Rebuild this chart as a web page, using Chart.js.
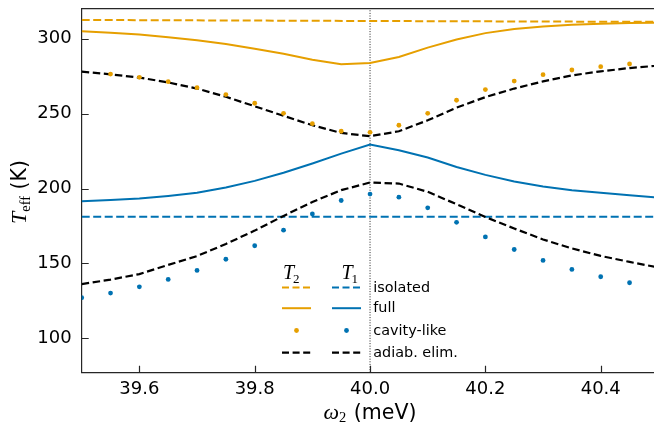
<!DOCTYPE html>
<html><head><meta charset="utf-8">
<script src="https://cdn.jsdelivr.net/npm/chart.js@4.4.1/dist/chart.umd.min.js"></script>
<style>html,body{margin:0;padding:0;background:#fff;overflow:hidden}#wrap{position:relative;width:654px;height:428px}</style>
</head><body><div id="wrap"><canvas id="c" width="654" height="428"></canvas></div>
<script>
// ---- data ----
const omega = [39.5, 39.55, 39.6, 39.65, 39.7, 39.75, 39.8, 39.85, 39.9, 39.95, 40.0, 40.05, 40.1, 40.15, 40.2, 40.25, 40.3, 40.35, 40.4, 40.45, 40.5];
const omegaCavityT2 = [39.55, 39.6, 39.65, 39.7, 39.75, 39.8, 39.85, 39.9, 39.95, 40.0, 40.05, 40.1, 40.15, 40.2, 40.25, 40.3, 40.35, 40.4, 40.45];
const omegaCavityT1 = [39.5, 39.55, 39.6, 39.65, 39.7, 39.75, 39.8, 39.85, 39.9, 39.95, 40.0, 40.05, 40.1, 40.15, 40.2, 40.25, 40.3, 40.35, 40.4, 40.45];
const omegaIsoT2 = [39.5, 40.0, 40.5];
const T2isolated = [312.5, 311.8, 311.2];
const omegaIsoT1 = [39.5, 40.5];
const T1isolated = [181.1, 181.1];
const T2full = [305.0, 304.0, 302.8, 301.0, 299.0, 296.5, 293.3, 290.0, 286.0, 282.9, 283.7, 287.8, 294.0, 299.5, 303.7, 306.4, 308.2, 309.3, 310.0, 310.4, 310.7];
const T1full = [191.5, 192.3, 193.3, 195.0, 197.1, 200.7, 205.1, 210.5, 216.7, 223.3, 229.3, 225.5, 220.7, 214.4, 209.1, 204.7, 201.3, 198.9, 197.1, 195.5, 194.0];
const T2adiab = [278.0, 276.2, 274.0, 270.8, 266.7, 261.2, 254.9, 248.5, 242.2, 237.1, 234.9, 238.2, 245.5, 254.0, 261.0, 266.7, 271.5, 275.5, 278.2, 280.4, 282.0];
const T1adiab = [136.2, 139.2, 142.9, 149.0, 154.9, 163.0, 171.9, 181.7, 191.0, 198.9, 204.0, 203.3, 197.8, 189.5, 181.0, 173.3, 166.0, 160.0, 155.0, 151.0, 147.3];
const T2cavity = [276.4, 274.2, 271.3, 267.3, 262.7, 256.9, 250.2, 243.3, 238.2, 237.5, 242.2, 250.2, 258.9, 266.0, 271.7, 276.0, 279.1, 281.3, 283.1];
const T1cavity = [127.1, 130.2, 134.4, 139.3, 145.3, 152.8, 161.8, 172.2, 183.0, 192.0, 196.3, 194.2, 187.1, 177.4, 167.7, 159.3, 152.0, 146.0, 141.1, 137.1];
const resonance = [40.0];
const xTicks = [39.6, 39.8, 40.0, 40.2, 40.4];
const yTicks = [100, 150, 200, 250, 300];
const legendLabels = ['isolated', 'full', 'cavity-like', 'adiab. elim.'];

const ORANGE = '#E69F00', BLUE = '#0072B2', BLACK = '#000000';
const pts = (xs, ys) => ys.map((y, i) => ({x: xs[i], y}));
const XMIN = 39.5, XMAX = 40.4924, YMIN = 77.07, YMAX = 320.0;

const datasets = [
  {data: pts(omegaCavityT2, T2cavity), showLine: false, pointRadius: 2.4, pointBackgroundColor: ORANGE, pointBorderWidth: 0, borderColor: ORANGE},
  {data: pts(omegaCavityT1, T1cavity), showLine: false, pointRadius: 2.4, pointBackgroundColor: BLUE, pointBorderWidth: 0, borderColor: BLUE},
  {data: pts(omega, T2adiab), borderColor: BLACK, borderWidth: 2.2, borderDash: [7.5, 3.6], pointRadius: 0},
  {data: pts(omega, T1adiab), borderColor: BLACK, borderWidth: 2.2, borderDash: [7.5, 3.6], pointRadius: 0},
  {data: pts(omega, T2full), borderColor: ORANGE, borderWidth: 2, pointRadius: 0},
  {data: pts(omega, T1full), borderColor: BLUE, borderWidth: 2, pointRadius: 0},
  {data: pts(omegaIsoT2, T2isolated), borderColor: ORANGE, borderWidth: 2, borderDash: [8, 3.5], pointRadius: 0},
  {data: pts(omegaIsoT1, T1isolated), borderColor: BLUE, borderWidth: 2, borderDash: [8, 3.5], pointRadius: 0},
  {data: [{x: resonance[0], y: YMIN}, {x: resonance[0], y: YMAX}], borderColor: '#222', borderWidth: 1, borderDash: [1, 1.6], pointRadius: 0}
];

const decor = {
  id: 'decor',
  afterDraw(chart) {
    const ctx = chart.ctx, a = chart.chartArea, xs = chart.scales.x, ys = chart.scales.y;
    ctx.save();
    // inward ticks + top spine
    ctx.strokeStyle = '#262626'; ctx.lineWidth = 1.2; ctx.setLineDash([]);
    ctx.beginPath();
    xTicks.forEach(v => { const p = Math.round(xs.getPixelForValue(v)) + 0.5; ctx.moveTo(p, a.bottom); ctx.lineTo(p, a.bottom - 7); });
    yTicks.forEach(v => { const p = Math.round(ys.getPixelForValue(v)) + 0.5; ctx.moveTo(a.left, p); ctx.lineTo(a.left + 7, p); });
    ctx.moveTo(a.left, a.top); ctx.lineTo(a.right, a.top);
    ctx.stroke();

    // x title: ω₂ (meV)
    ctx.fillStyle = '#000'; ctx.textBaseline = 'alphabetic'; ctx.textAlign = 'left';
    const fI = 'italic 22px "Liberation Serif"', fS = '14.5px "Liberation Serif"', fT = '20.5px "DejaVu Sans"';
    ctx.font = fI; const wW = ctx.measureText('ω').width;
    ctx.font = fS; const w2 = ctx.measureText('2').width;
    ctx.font = fT; const wR = ctx.measureText(' (meV)').width;
    let x0 = 370 - (wW + w2 + 1 + wR) / 2; const by = 418.5;
    ctx.font = fI; ctx.fillText('ω', x0, by); x0 += wW;
    ctx.font = fS; ctx.fillText('2', x0, by + 3.5); x0 += w2 + 1;
    ctx.font = fT; ctx.fillText(' (meV)', x0, by);

    // y title: T_eff (K)
    ctx.save();
    ctx.translate(26, 192); ctx.rotate(-Math.PI / 2);
    ctx.font = fI; const wT = ctx.measureText('T').width;
    ctx.font = fS; const wE = ctx.measureText('eff').width;
    ctx.font = fT; const wK = ctx.measureText(' (K)').width;
    let t0 = -(wT + wE + wK) / 2;
    ctx.font = fI; ctx.fillText('T', t0, 0); t0 += wT;
    ctx.font = fS; ctx.fillText('eff', t0, 3.5); t0 += wE;
    ctx.font = fT; ctx.fillText(' (K)', t0, 0);
    ctx.restore();

    // legend
    const fH = 'italic 20px "Liberation Serif"', fHs = '13px "Liberation Serif"';
    const hx = [[282, 311, ORANGE], [332, 361, BLUE]];
    const heads = [['2', 283], ['1', 341.5]];
    heads.forEach(([s, x]) => {
      ctx.font = fH; ctx.fillText('T', x, 279); const w = ctx.measureText('T').width;
      ctx.font = fHs; ctx.fillText(s, x + w - 1, 282.5);
    });
    const rows = [287.5, 308.2, 330.5, 352.7];
    hx.forEach(([l, r, col]) => {
      ctx.lineWidth = 2; ctx.strokeStyle = col;
      ctx.setLineDash([7, 3.5]); ctx.beginPath(); ctx.moveTo(l, rows[0]); ctx.lineTo(r, rows[0]); ctx.stroke();
      ctx.setLineDash([]); ctx.beginPath(); ctx.moveTo(l, rows[1]); ctx.lineTo(r, rows[1]); ctx.stroke();
      ctx.fillStyle = col; ctx.beginPath(); ctx.arc((l + r) / 2, rows[2], 2.4, 0, Math.PI * 2); ctx.fill();
      ctx.strokeStyle = BLACK; ctx.lineWidth = 2.2; ctx.setLineDash([7, 3.6]);
      ctx.beginPath(); ctx.moveTo(l, rows[3]); ctx.lineTo(r, rows[3]); ctx.stroke();
    });
    ctx.setLineDash([]);
    ctx.fillStyle = '#000'; ctx.font = '14.4px "DejaVu Sans"'; ctx.textBaseline = 'middle';
    legendLabels.forEach((t, i) => ctx.fillText(t, 373.3, rows[i] + 0.5));
    ctx.restore();
  }
};

new Chart(document.getElementById('c'), {
  type: 'line',
  data: {datasets},
  options: {
    responsive: false, animation: false, devicePixelRatio: 1,
    layout: {autoPadding: false, padding: {top: 8.7, right: 0, bottom: 0, left: 0}},
    plugins: {legend: {display: false}, tooltip: {enabled: false}},
    elements: {line: {tension: 0, borderCapStyle: 'butt'}},
    scales: {
      x: {
        type: 'linear', min: XMIN, max: XMAX,
        afterBuildTicks: s => { s.ticks = xTicks.map(v => ({value: v})); },
        afterFit: s => { s.height = 55.3; s.paddingLeft = 0; s.paddingRight = 0; },
        ticks: {font: {family: 'DejaVu Sans', size: 18}, color: '#000', padding: 6, maxRotation: 0, autoSkip: false, callback: v => v.toFixed(1)},
        grid: {drawOnChartArea: false, drawTicks: false},
        border: {color: '#262626', width: 1.2}
      },
      y: {
        type: 'linear', min: YMIN, max: YMAX,
        afterBuildTicks: s => { s.ticks = yTicks.map(v => ({value: v})); },
        afterFit: s => { s.width = 81.7; s.paddingTop = 0; s.paddingBottom = 0; },
        ticks: {font: {family: 'DejaVu Sans', size: 18}, color: '#000', padding: 10, autoSkip: false, callback: v => String(v)},
        grid: {drawOnChartArea: false, drawTicks: false},
        border: {color: '#262626', width: 1.2}
      }
    }
  },
  plugins: [decor]
});
</script></body></html>
